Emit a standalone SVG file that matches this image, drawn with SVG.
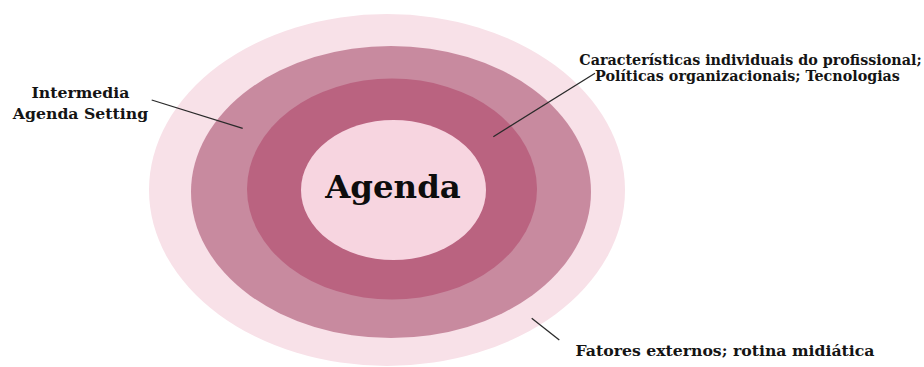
<svg xmlns="http://www.w3.org/2000/svg" width="924" height="367" viewBox="0 0 924 367">
<style>
.lbl{font-family:"DejaVu Serif","Liberation Serif",serif;font-weight:bold;font-size:15.7px;fill:#141414}
.lbl-s{font-size:14.3px}
.ctr{font-family:"DejaVu Serif","Liberation Serif",serif;font-weight:bold;font-size:32.4px;fill:#0d0d0d}
.con{stroke:#2a2a2a;stroke-width:1.3;fill:none}
</style>
<rect width="924" height="367" fill="#ffffff"/>
<g id="ring-outer"><ellipse cx="387" cy="190" rx="238" ry="176" fill="#f8e1e8"/></g>
<g id="ring-second"><ellipse cx="391" cy="192" rx="200" ry="146" fill="#c88a9f"/></g>
<g id="ring-third"><ellipse cx="392" cy="189" rx="145" ry="110.5" fill="#ba6380"/></g>
<g id="agenda"><ellipse cx="393.5" cy="190" rx="92.5" ry="70" fill="#f7d5e0"/>
<text class="ctr" x="393" y="198" text-anchor="middle">Agenda</text></g>
<g id="label-intermedia"><text class="lbl" text-anchor="middle"><tspan x="80.5" y="98">Intermedia</tspan><tspan x="80.5" y="119">Agenda Setting</tspan></text></g>
<g id="label-caracteristicas"><text class="lbl lbl-s" text-anchor="middle"><tspan x="750.5" y="65">Características individuais do profissional;</tspan><tspan x="747.5" y="81">Políticas organizacionais; Tecnologias</tspan></text></g>
<g id="label-fatores"><text class="lbl" text-anchor="middle"><tspan x="725" y="355.5">Fatores externos; rotina midiática</tspan></text></g>
<g id="connectors">
<line class="con" x1="151.7" y1="100" x2="242.7" y2="128.3"/>
<line class="con" x1="595" y1="73.3" x2="493.3" y2="136.7"/>
<line class="con" x1="531.7" y1="318.3" x2="559.3" y2="340"/>
</g>
</svg>
